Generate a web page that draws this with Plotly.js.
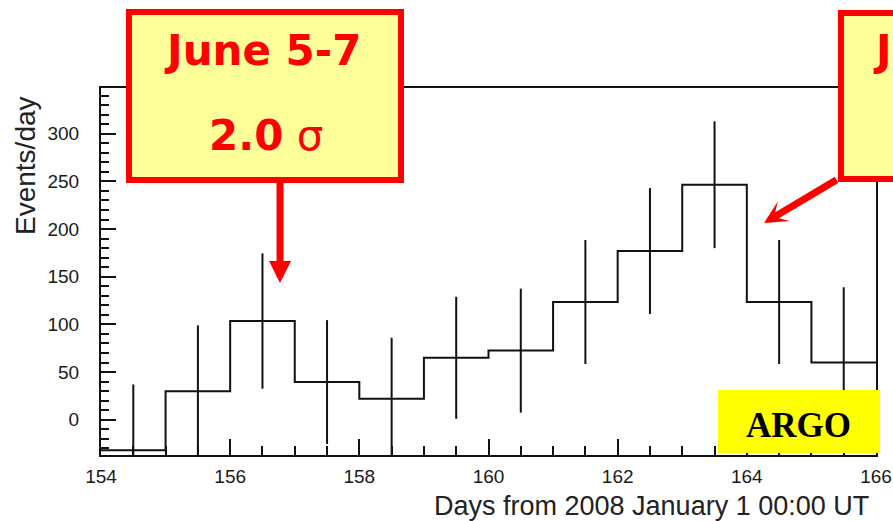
<!DOCTYPE html>
<html>
<head>
<meta charset="utf-8">
<script src="https://cdn.plot.ly/plotly-3.0.1.min.js"></script>
<style>
  html, body { margin: 0; padding: 0; background: #fff; }
  #chart { width: 893px; height: 521px; }
</style>
</head>
<body>
<div id="chart"></div>
<script>
// Daily event rate, one-day bins
const binEdges = [154, 155, 156, 157, 158, 159, 160, 161, 162, 163, 164, 165, 166];
const eventsPerDay = [-32, 30, 103.5, 39.5, 22, 65, 72.5, 123.5, 177, 246.5, 123.5, 60];
const eventErrors = [69, 69, 71, 65, 64, 64, 65, 65, 66, 66.5, 65, 79];

const xTickVals = [154, 156, 158, 160, 162, 164, 166];
const yTickVals = [0, 50, 100, 150, 200, 250, 300];

const xTitle = 'Days from 2008 January 1 00:00 UT';
const yTitle = 'Events/day';
const leftCallout = ['June 5-7', '2.0 σ'];
const rightCallout = 'J';
const expLabel = 'ARGO';

// step outline: each bin value held across its width
const stepX = binEdges.slice();
const stepY = eventsPerDay.concat([eventsPerDay[eventsPerDay.length - 1]]);
const binCenters = eventsPerDay.map((_, i) => (binEdges[i] + binEdges[i + 1]) / 2);

const ink = '#111111';
const red = '#ff0000';
const paleYellow = '#ffff99';

const traces = [
  {
    type: 'scatter', mode: 'lines',
    x: stepX, y: stepY,
    line: { shape: 'hv', color: ink, width: 2 },
    hoverinfo: 'skip', showlegend: false
  },
  {
    type: 'scatter', mode: 'markers',
    x: binCenters, y: eventsPerDay,
    marker: { size: 0.1, color: ink },
    error_y: { type: 'data', array: eventErrors, visible: true, color: ink, thickness: 2, width: 0 },
    hoverinfo: 'skip', showlegend: false
  }
];

const tickFont = { family: 'Liberation Sans, Arial, sans-serif', size: 19, color: '#1a1a1a' };

const layout = {
  width: 893, height: 521,
  margin: { l: 101, r: 17, t: 88, b: 66, pad: 0 },
  paper_bgcolor: '#ffffff', plot_bgcolor: '#ffffff',
  showlegend: false,
  xaxis: {
    range: [154, 166],
    tickmode: 'array', tickvals: xTickVals,
    ticks: 'inside', ticklen: 16, tickwidth: 2, tickcolor: ink,
    minor: { dtick: 0.5, tick0: 154, ticks: 'inside', ticklen: 9, tickwidth: 2, tickcolor: ink, showgrid: false },
    showline: true, linecolor: ink, linewidth: 2, mirror: true,
    showgrid: false, zeroline: false,
    tickfont: tickFont, ticklabelstandoff: 3
  },
  yaxis: {
    range: [-37, 348],
    tickmode: 'array', tickvals: yTickVals,
    ticks: 'inside', ticklen: 15, tickwidth: 2, tickcolor: ink,
    minor: { dtick: 10, tick0: 0, ticks: 'inside', ticklen: 8, tickwidth: 2, tickcolor: ink, showgrid: false },
    showline: true, linecolor: ink, linewidth: 2, mirror: true,
    showgrid: false, zeroline: false,
    tickfont: tickFont, ticklabelstandoff: 16
  },
  shapes: [
    { type: 'rect', xref: 'paper', yref: 'paper', x0: 0.0361, x1: 0.3871, y0: 0.7493, y1: 1.2071,
      fillcolor: paleYellow, line: { color: red, width: 6 }, layer: 'above' },
    { type: 'rect', xref: 'paper', yref: 'paper', x0: 0.9548, x1: 1.0439, y0: 0.7520, y1: 1.2044,
      fillcolor: paleYellow, line: { color: red, width: 6 }, layer: 'above' },
    { type: 'rect', xref: 'paper', yref: 'paper', x0: 0.7961, x1: 1.0052, y0: 0.0055, y1: 0.1771,
      fillcolor: '#ffff00', line: { width: 0 }, layer: 'above' }
  ],
  annotations: [
    // axis titles
    { xref: 'paper', yref: 'paper', x: 0.9935, y: -0.139, xanchor: 'right', yanchor: 'middle',
      text: xTitle, showarrow: false,
      font: { family: 'Liberation Sans, Arial, sans-serif', size: 27, color: '#222' } },
    { xref: 'paper', yref: 'paper', x: -0.0968, y: 0.7902, xanchor: 'center', yanchor: 'middle',
      text: yTitle, textangle: -90, showarrow: false,
      font: { family: 'Liberation Sans, Arial, sans-serif', size: 28, color: '#222' } },
    // callout arrows
    { xref: 'paper', yref: 'paper', x: 0.2310, y: 0.4687, ax: 0, ay: -103, text: '',
      showarrow: true, arrowhead: 2, arrowsize: 0.63, arrowwidth: 7, arrowcolor: red, standoff: 0 },
    { xref: 'paper', yref: 'paper', x: 0.8555, y: 0.6322, ax: 74, ay: -44, text: '',
      showarrow: true, arrowhead: 3, arrowsize: 0.55, arrowwidth: 7, arrowcolor: red, standoff: 0 },
    // callout texts
    { xref: 'paper', yref: 'paper', x: 0.2090, y: 1.1030, xanchor: 'center', yanchor: 'middle',
      text: '<b>' + leftCallout[0] + '</b>', showarrow: false,
      font: { family: 'DejaVu Sans, sans-serif', size: 42, color: red } },
    { xref: 'paper', yref: 'paper', x: 0.2129, y: 0.8719, xanchor: 'center', yanchor: 'middle',
      text: '<b>' + leftCallout[1].split(' ')[0] + '</b> ' + leftCallout[1].split(' ')[1], showarrow: false,
      font: { family: 'DejaVu Sans, sans-serif', size: 42, color: red } },
    { xref: 'paper', yref: 'paper', x: 1.0200, y: 1.1030, xanchor: 'right', yanchor: 'middle',
      text: '<b>' + rightCallout + '</b>', showarrow: false, borderpad: 0, borderwidth: 0,
      font: { family: 'DejaVu Sans, sans-serif', size: 42, color: red } },
    // experiment label
    { xref: 'paper', yref: 'paper', x: 0.9006, y: 0.0817, xanchor: 'center', yanchor: 'middle',
      text: '<b>' + expLabel + '</b>', showarrow: false,
      font: { family: 'Liberation Serif, Times New Roman, serif', size: 35, color: '#000' } }
  ]
};

Plotly.newPlot('chart', traces, layout, { staticPlot: true, displayModeBar: false });
</script>
</body>
</html>
